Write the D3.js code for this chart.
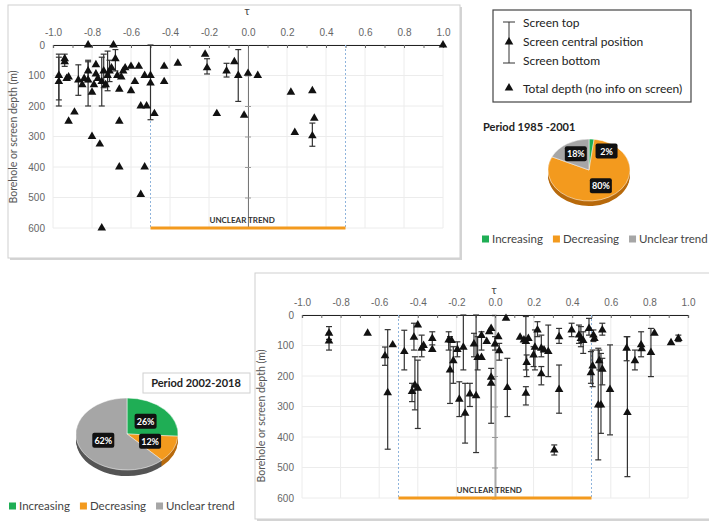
<!DOCTYPE html>
<html>
<head>
<meta charset="utf-8">
<script src="https://cdn.jsdelivr.net/npm/d3@7"></script>
<style>
  body { margin: 0; background: #fff; }
  svg { font-family: Lato, 'Open Sans', sans-serif; }
</style>
</head>
<body>
<div class="vis-container"></div>
<script>
// ---- data ----
const tauTicks = [-1.0, -0.8, -0.6, -0.4, -0.2, 0.0, 0.2, 0.4, 0.6, 0.8, 1.0];
const depthTicks = [0, 100, 200, 300, 400, 500, 600];

// [tau, central depth, screen top, screen bottom]
const screened1985 = [
  [-0.97, 120, 30, 200], [-0.97, 100, 40, 180], [-0.94, 55, 30, 70],
  [-0.87, 115, 65, 165], [-0.82, 115, 50, 200], [-0.82, 85, 55, 120],
  [-0.75, 120, 40, 200], [-0.74, 85, 30, 140], [-0.72, 100, 20, 150],
  [-0.71, 85, 50, 120], [-0.68, 45, 15, 85], [-0.5, 125, 0, 245],
  [-0.21, 75, 45, 95], [-0.11, 85, 60, 105], [-0.05, 100, 15, 185],
  [0.33, 298, 256, 332]
];
// [tau, total depth]
const totalDepth1985 = [
  [-0.94, 45], [-0.93, 110], [-0.92, 105], [-0.92, 250], [-0.89, 220],
  [-0.85, 130], [-0.84, 110], [-0.82, 0], [-0.8, 300], [-0.8, 155],
  [-0.79, 130], [-0.78, 65], [-0.78, 95], [-0.77, 110], [-0.76, 325],
  [-0.75, 600], [-0.73, 130], [-0.7, 75], [-0.69, 0], [-0.67, 100],
  [-0.66, 145], [-0.66, 250], [-0.66, 400], [-0.65, 105], [-0.64, 85],
  [-0.63, 75], [-0.6, 70], [-0.6, 150], [-0.58, 120], [-0.56, 70],
  [-0.55, 200], [-0.55, 490], [-0.53, 100], [-0.53, 400], [-0.52, 200],
  [-0.5, 100], [-0.48, 225], [-0.43, 70], [-0.43, 120], [-0.36, 60],
  [-0.22, 30], [-0.16, 225], [-0.07, 55], [0.0, 93], [0.05, 100],
  [-0.02, 230], [0.22, 155], [0.33, 150], [0.24, 287], [0.34, 240], [1.0, 0]
];

const screened2002 = [
  [-0.86, 60, 38, 80], [-0.86, 85, 60, 115], [-0.57, 134, 105, 165],
  [-0.556, 255, 48, 440], [-0.47, 120, 50, 180], [-0.43, 251, 224, 284],
  [-0.42, 73, 27, 115], [-0.415, 230, 137, 311], [-0.4, 240, 148, 372],
  [-0.38, 109, 66, 137], [-0.325, 77, 55, 98], [-0.24, 82, 55, 115],
  [-0.233, 180, 71, 290], [-0.216, 150, 104, 224], [-0.195, 113, 88, 137],
  [-0.185, 276, 219, 333], [-0.164, 106, 0, 180], [-0.155, 322, 224, 420],
  [-0.13, 259, 224, 300], [-0.109, 95, 60, 137], [-0.098, 265, 0, 451],
  [-0.09, 139, 71, 180], [-0.07, 67, 55, 115], [0.0, 95, 71, 115],
  [-0.02, 204, 175, 355], [0.022, 117, 93, 148], [0.064, 238, 142, 333],
  [0.16, 87, 5, 180], [0.164, 156, 131, 202], [0.16, 257, 235, 295],
  [0.2, 131, 104, 169], [0.207, 106, 49, 180], [0.22, 49, 22, 71],
  [0.24, 109, 66, 137], [0.24, 193, 169, 229], [0.276, 120, 33, 202],
  [0.332, 71, 44, 93], [0.332, 244, 164, 322], [0.307, 443, 426, 459],
  [0.397, 49, 27, 71], [0.435, 66, 33, 93], [0.445, 77, 38, 104],
  [0.457, 84, 55, 126], [0.487, 44, 11, 66], [0.497, 189, 120, 224],
  [0.506, 167, 115, 235], [0.51, 66, 49, 87], [0.535, 295, 109, 475],
  [0.54, 150, 115, 180], [0.549, 295, 126, 388], [0.556, 178, 142, 229],
  [0.556, 49, 27, 66], [0.596, 244, 98, 393], [0.682, 109, 71, 150],
  [0.686, 320, 71, 530], [0.725, 150, 115, 180], [0.757, 98, 55, 137],
  [0.808, 123, 44, 202], [0.95, 77, 66, 87]
];
const totalDepth2002 = [
  [-0.66, 60], [-0.53, 98], [-0.4, 33], [-0.37, 100], [-0.325, 113],
  [-0.225, 84], [-0.07, 139], [-0.043, 87], [-0.03, 55], [-0.02, 44],
  [-0.02, 224], [0.017, 71], [0.057, 11], [0.13, 73], [0.15, 82],
  [0.173, 77], [0.254, 115], [0.515, 77], [0.76, 111], [0.826, 60], [0.912, 91]
];

const pieCategories = ['Increasing', 'Decreasing', 'Unclear trend'];
const pieColors = ['#1fae55', '#f39a1e', '#a6a6a6'];
const pieSides = ['#12733a', '#b86a0c', '#555555'];
const pie1985 = [2, 80, 18];
const pie2002 = [26, 12, 62];

// ---- svg ----
const svg = d3
  .select('.vis-container')
  .append('svg')
  .attr('width', 709)
  .attr('height', 526);

// panel frames with soft shadow
function frame(x, y, w, h) {
  svg.append('rect').attr('x', x + 2).attr('y', y + 2).attr('width', w).attr('height', h)
    .attr('fill', '#d4d4d4');
  svg.append('rect').attr('x', x).attr('y', y).attr('width', w).attr('height', h)
    .attr('fill', 'white').attr('stroke', '#cfcfcf');
}
frame(8, 5, 452, 253);
frame(255, 273, 460, 246);

const triangle = d3.symbol(d3.symbolTriangle, 32);

function drawScatter(p) {
  const x = d3.scaleLinear().domain([-1, 1]).range([p.left, p.right]);
  const y = d3.scaleLinear().domain([0, 600]).range([p.top, p.bottom]);
  const g = svg.append('g');

  // gridlines
  g.append('g').selectAll('line').data(tauTicks).join('line')
    .attr('x1', (d) => x(d)).attr('x2', (d) => x(d))
    .attr('y1', y(0)).attr('y2', y(600))
    .attr('stroke', '#ececec');
  g.append('g').selectAll('line').data(depthTicks).join('line')
    .attr('x1', x(-1)).attr('x2', x(1))
    .attr('y1', (d) => y(d)).attr('y2', (d) => y(d))
    .attr('stroke', '#ececec');

  // y axis crossing at tau = 0
  const yAxis = d3.axisLeft(y).tickValues(depthTicks).tickSize(3).tickFormat('');
  g.append('g')
    .attr('transform', `translate(${x(0)},0)`)
    .call(yAxis)
    .call((a) => a.select('.domain').attr('stroke', p.zeroColor).attr('stroke-width', p.zeroWidth))
    .call((a) => a.selectAll('.tick line').attr('stroke', '#999').attr('x1', 3));

  // y tick labels on the left
  g.append('g')
    .attr('transform', `translate(${x(-1) - 8},0)`)
    .call(d3.axisLeft(y).tickValues(depthTicks).tickSize(0).tickPadding(0))
    .call((a) => a.select('.domain').remove())
    .call((a) => a.selectAll('text').attr('fill', '#666').attr('font-size', 10));

  // x axis on top
  const minor = d3.range(-10, 11).map((d) => d / 10);
  g.append('g')
    .attr('transform', `translate(0,${y(0)})`)
    .call(
      d3.axisTop(x).tickValues(minor).tickSize(-3).tickPadding(9)
        .tickFormat((d) => (Math.round(d * 10) % 2 === 0 ? d.toFixed(1) : ''))
    )
    .call((a) => a.select('.domain').attr('stroke', '#222').attr('stroke-width', 1.2))
    .call((a) => a.selectAll('.tick line').attr('stroke', '#666'))
    .call((a) => a.selectAll('text').attr('fill', '#666').attr('font-size', 10));

  g.append('text')
    .attr('x', x(0) - 1).attr('y', p.tauY)
    .attr('text-anchor', 'middle').attr('font-size', 11).attr('fill', '#444')
    .text('τ');

  g.append('text')
    .attr('transform', `translate(${p.titleX},${p.titleY}) rotate(-90)`)
    .attr('text-anchor', 'middle').attr('font-size', 10.5).attr('fill', '#555')
    .text('Borehole or screen depth (m)');

  // unclear trend band
  [-0.5, 0.5].forEach((t) => {
    g.append('line')
      .attr('x1', x(t)).attr('x2', x(t)).attr('y1', y(0)).attr('y2', y(600))
      .attr('stroke', '#8fb4dc').attr('stroke-dasharray', '2,2');
  });
  g.append('line')
    .attr('x1', x(-0.5)).attr('x2', x(0.5)).attr('y1', y(600)).attr('y2', y(600))
    .attr('stroke', '#f39a1e').attr('stroke-width', 3);
  g.append('text')
    .attr('x', x(-0.03)).attr('y', y(600) - 5)
    .attr('text-anchor', 'middle').attr('font-size', 8).attr('font-weight', 'bold')
    .attr('fill', '#333').text('UNCLEAR TREND');

  // screen error bars
  const bars = g.append('g').selectAll('g').data(p.screened).join('g')
    .attr('stroke', '#333').attr('stroke-width', 1.2);
  bars.append('line')
    .attr('x1', (d) => x(d[0])).attr('x2', (d) => x(d[0]))
    .attr('y1', (d) => y(d[2])).attr('y2', (d) => y(d[3]));
  [2, 3].forEach((k) => {
    bars.append('line')
      .attr('x1', (d) => x(d[0]) - 3).attr('x2', (d) => x(d[0]) + 3)
      .attr('y1', (d) => y(d[k])).attr('y2', (d) => y(d[k]));
  });

  g.append('g').selectAll('path').data(p.screened.concat(p.total)).join('path')
    .attr('d', triangle)
    .attr('transform', (d) => `translate(${x(d[0])},${y(d[1])})`)
    .attr('fill', '#111');
}

drawScatter({
  left: 53, right: 443, top: 45, bottom: 228,
  screened: screened1985, total: totalDepth1985,
  tauY: 15, titleX: 17, titleY: 137, zeroColor: '#777', zeroWidth: 1
});
drawScatter({
  left: 302, right: 688, top: 315, bottom: 498,
  screened: screened2002, total: totalDepth2002,
  tauY: 294, titleX: 265, titleY: 416, zeroColor: '#aaa', zeroWidth: 2
});

// ---- legend box ----
const lg = svg.append('g');
lg.append('rect').attr('x', 493).attr('y', 10).attr('width', 198).attr('height', 92)
  .attr('fill', 'white').attr('stroke', '#444').attr('stroke-width', 1.2);
lg.append('line').attr('x1', 509).attr('x2', 509).attr('y1', 22).attr('y2', 63).attr('stroke', '#333');
[22, 63].forEach((v) => lg.append('line').attr('x1', 503).attr('x2', 515)
  .attr('y1', v).attr('y2', v).attr('stroke', '#333'));
[42, 88].forEach((v) => lg.append('path').attr('d', triangle)
  .attr('transform', `translate(509,${v})`).attr('fill', '#111'));
const legendText = ['Screen top', 'Screen central position', 'Screen bottom', 'Total depth (no info on screen)'];
[23, 42, 61, 89].forEach((v, i) => lg.append('text')
  .attr('x', 523).attr('y', v).attr('dy', '0.35em').attr('font-size', 12).attr('fill', '#222')
  .text(legendText[i]));

// ---- pies ----
function drawPie(p) {
  const g = svg.append('g');
  const arcs = d3.pie().sort(null)(p.values);
  const arc = d3.arc().innerRadius(0).outerRadius(p.rx);
  const k = p.ry / p.rx;
  for (let t = p.depth; t >= 1; t--) {
    g.append('g')
      .attr('transform', `translate(${p.cx},${p.cy + t}) scale(1,${k})`)
      .selectAll('path').data(arcs).join('path')
      .attr('d', arc).attr('fill', (d, i) => pieSides[i]);
  }
  g.append('g')
    .attr('transform', `translate(${p.cx},${p.cy}) scale(1,${k})`)
    .selectAll('path').data(arcs).join('path')
    .attr('d', arc).attr('fill', (d, i) => pieColors[i])
    .attr('stroke', 'white').attr('stroke-width', 0.6);

  const labelArc = d3.arc().innerRadius(p.rx * p.labelR).outerRadius(p.rx * p.labelR);
  const lab = g.append('g').selectAll('g').data(arcs).join('g')
    .attr('transform', (d) => {
      const c = labelArc.centroid(d);
      const nudge = d.data < 5 ? 16 : 0;
      return `translate(${p.cx + c[0] + nudge},${p.cy + c[1] * k})`;
    });
  lab.append('rect').attr('x', -11).attr('y', -8).attr('width', 22).attr('height', 15)
    .attr('rx', 2).attr('fill', '#111');
  lab.append('text').attr('text-anchor', 'middle').attr('dy', '0.35em')
    .attr('font-size', 9).attr('font-weight', 'bold').attr('fill', 'white')
    .text((d) => d.data + '%');

  // legend row, laid out one item after another
  let lx = p.legendX;
  pieCategories.forEach((name, i) => {
    const item = g.append('g').attr('transform', `translate(${lx},${p.legendY})`);
    item.append('rect').attr('x', 0).attr('y', -3.5).attr('width', 7).attr('height', 7)
      .attr('fill', pieColors[i]);
    const t = item.append('text').attr('x', 10).attr('dy', '0.35em')
      .attr('font-size', 11.5).attr('fill', '#444').text(name);
    lx += 10 + t.node().getComputedTextLength() + 10;
  });
}

svg.append('text').attr('x', 483).attr('y', 131)
  .attr('font-size', 11).attr('font-weight', 'bold').attr('fill', '#222')
  .text('Period 1985 -2001');
drawPie({
  values: pie1985, cx: 589, cy: 170, rx: 41, ry: 31, depth: 5, labelR: 0.6,
  legendX: 482, legendY: 239
});

svg.append('rect').attr('x', 143).attr('y', 373).attr('width', 107).attr('height', 20)
  .attr('fill', 'white').attr('stroke', '#d0d0d0');
svg.append('text').attr('x', 196).attr('y', 383).attr('dy', '0.35em')
  .attr('text-anchor', 'middle').attr('font-size', 11).attr('font-weight', 'bold').attr('fill', '#222')
  .text('Period 2002-2018');
drawPie({
  values: pie2002, cx: 127, cy: 434, rx: 51, ry: 36, depth: 6, labelR: 0.5,
  legendX: 9, legendY: 506
});
</script>
</body>
</html>
